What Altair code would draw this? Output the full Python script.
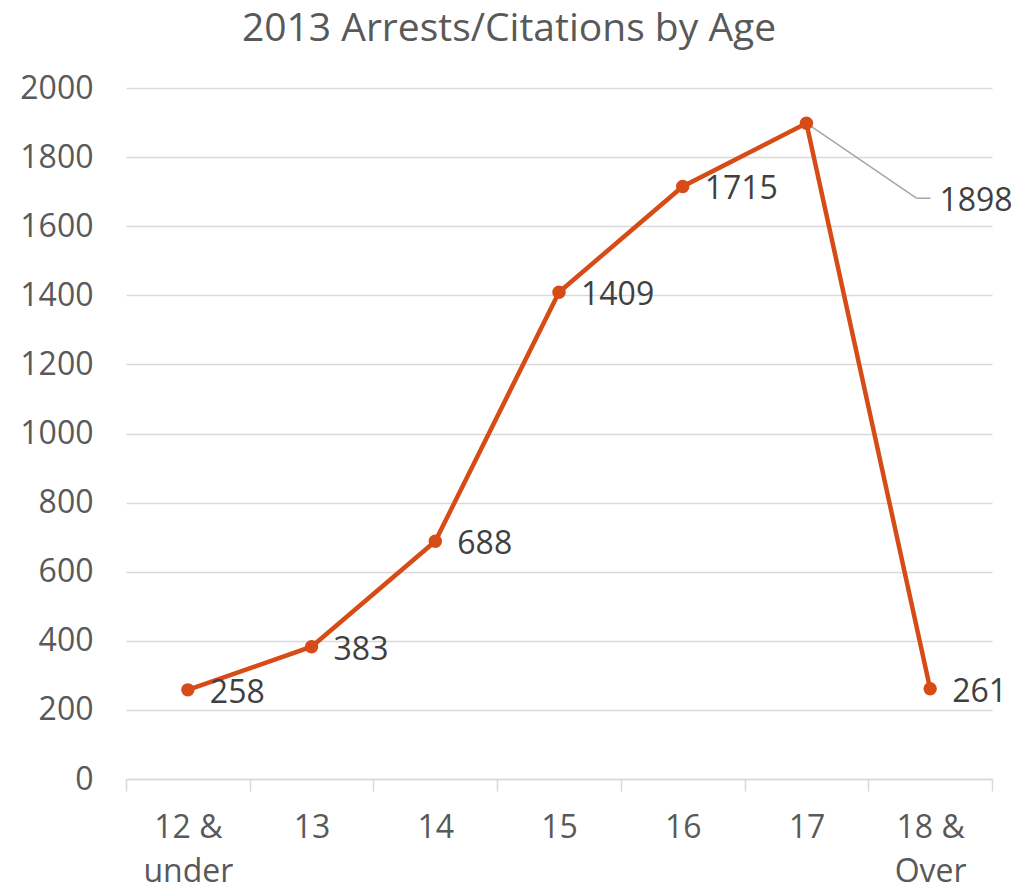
import altair as alt
import pandas as pd

ages = ["12 & under", "13", "14", "15", "16", "17", "18 & Over"]
counts = [258, 383, 688, 1409, 1715, 1898, 261]
callout_age = "17"

df = pd.DataFrame({"age": ages, "count": counts})

FONT = "Open Sans"
LINE = "#D64B16"

x = alt.X(
    "age:N",
    sort=ages,
    scale=alt.Scale(paddingInner=0, paddingOuter=0),
    axis=alt.Axis(
        title=None,
        labelAngle=0,
        labelExpr="split(datum.label, ' & ').length > 1 ? [split(datum.label, ' & ')[0] + ' &', split(datum.label, ' & ')[1]] : datum.label",
        labelFont=FONT,
        labelFontSize=32,
        labelColor="#595959",
        labelPadding=21,
        labelLineHeight=44,
        labelBaseline="top",
        domainColor="#D9D9D9",
        domainWidth=1.5,
        tickColor="#D9D9D9",
        tickWidth=1.5,
        tickSize=12,
        tickBand="extent",
        grid=False,
    ),
)
y = alt.Y(
    "count:Q",
    scale=alt.Scale(domain=[0, 2000], nice=False),
    axis=alt.Axis(
        title=None,
        values=list(range(0, 2001, 200)),
        format="d",
        labelFont=FONT,
        labelFontSize=32,
        labelColor="#595959",
        labelPadding=33,
        ticks=False,
        domain=False,
        gridColor="#D9D9D9",
        gridWidth=1.5,
    ),
)

base = alt.Chart(df).encode(x=x, y=y)

line = base.mark_line(color=LINE, strokeWidth=4.5)
pts = base.mark_point(filled=True, color=LINE, size=180, opacity=1)

labels = base.transform_filter(alt.datum.age != callout_age).mark_text(
    align="left", baseline="middle", dx=22, dy=3, font=FONT, fontSize=32, color="#404040"
).encode(text="count:Q")

callout = base.transform_filter(alt.datum.age == callout_age)
leader1 = callout.mark_rule(color="#A6A6A6", strokeWidth=1.5, x2Offset=110, y2Offset=75).encode(
    x2=alt.X2("age:N"), y2=alt.Y2("count:Q")
)
leader2 = callout.mark_rule(
    color="#A6A6A6", strokeWidth=1.5, xOffset=110, x2Offset=124, yOffset=75, y2Offset=75
).encode(x2=alt.X2("age:N"), y2=alt.Y2("count:Q"))
callout_label = callout.mark_text(
    align="left", baseline="middle", dx=133, dy=78, font=FONT, fontSize=32, color="#404040"
).encode(text="count:Q")

chart = (
    alt.layer(line, leader1, leader2, pts, labels, callout_label)
    .properties(
        width=866,
        height=691,
        autosize=alt.AutoSizeParams(type="none"),
        padding={"left": 118, "top": 80, "right": 20, "bottom": 104},
        title=alt.TitleParams(
            "2013 Arrests/Citations by Age",
            font=FONT,
            fontSize=39,
            fontWeight="normal",
            color="#595959",
            anchor="middle",
            frame="group",
            dx=-50,
            offset=-8,
            baseline="alphabetic",
        ),
    )
    .configure(background="white")
    .configure_view(strokeWidth=0, stroke="transparent")
)

chart.save("out.html", embed_options={"renderer": "svg", "actions": False})
